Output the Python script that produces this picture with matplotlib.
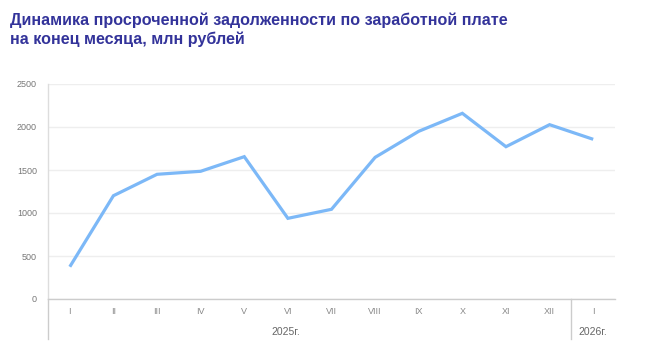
import matplotlib
matplotlib.use("Agg")
import matplotlib.pyplot as plt

months = ["I", "II", "III", "IV", "V", "VI", "VII", "VIII", "IX", "X", "XI", "XII", "I"]
values = [375, 1201, 1450, 1485, 1655, 938, 1043, 1647, 1950, 2159, 1771, 2027, 1857]
years = ["2025г.", "2026г."]
year_counts = [12, 1]
yticks = [0, 500, 1000, 1500, 2000, 2500]
title = "Динамика просроченной задолженности по заработной плате\nна конец месяца, млн рублей"

plt.rcParams['font.family'] = ['Liberation Sans', 'DejaVu Sans']

W, H = 659, 364
fig = plt.figure(figsize=(W / 100, H / 100), dpi=100)
left, right, top, bottom = 48, 615, 84, 299
ax = fig.add_axes([left / W, 1 - bottom / H, (right - left) / W, (bottom - top) / H])

x = list(range(len(months)))
ax.plot(x, values, color="#7cb8f7", lw=2.3, solid_joinstyle="miter", solid_capstyle="butt")
ax.set_xlim(-0.5, len(months) - 0.5)
ax.set_ylim(0, 2500)
ax.set_yticks(yticks)
ax.set_yticklabels([str(v) for v in yticks], fontsize=6.5, color="#777777")
ax.set_xticks(x)
ax.set_xticklabels(months, fontsize=6.5, color="#888888")
ax.tick_params(axis="both", length=0)
ax.tick_params(axis="y", pad=8)
ax.tick_params(axis="x", pad=6)
ax.grid(axis="y", color="#eeeeee", lw=1)
ax.set_axisbelow(True)
for s in ["top", "right"]:
    ax.spines[s].set_visible(False)
ax.spines["left"].set_color("#dddddd")
ax.spines["bottom"].set_color("#cccccc")
ax.spines["left"].set_linewidth(1)
ax.spines["bottom"].set_linewidth(1)

# year grouping
trans = ax.get_xaxis_transform()
bounds = [-0.5]
for c in year_counts:
    bounds.append(bounds[-1] + c)
for b in bounds[:-1]:
    ax.plot([b, b], [0, -40 / (bottom - top)], transform=trans, color="#cccccc", lw=1, clip_on=False)
label_pos = [4.95, (bounds[1] + bounds[2]) / 2]
for cx, yl in zip(label_pos, years):
    ax.text(cx, -33 / (bottom - top), yl, transform=trans, ha="center", va="center",
            fontsize=7.5, color="#666666")

fig.text(10 / W, 1 - 12 / H, title, fontsize=11.6, fontweight="bold", color="#33339a",
         ha="left", va="top", linespacing=1.3)

fig.savefig("out.png", dpi=100, facecolor="white")
